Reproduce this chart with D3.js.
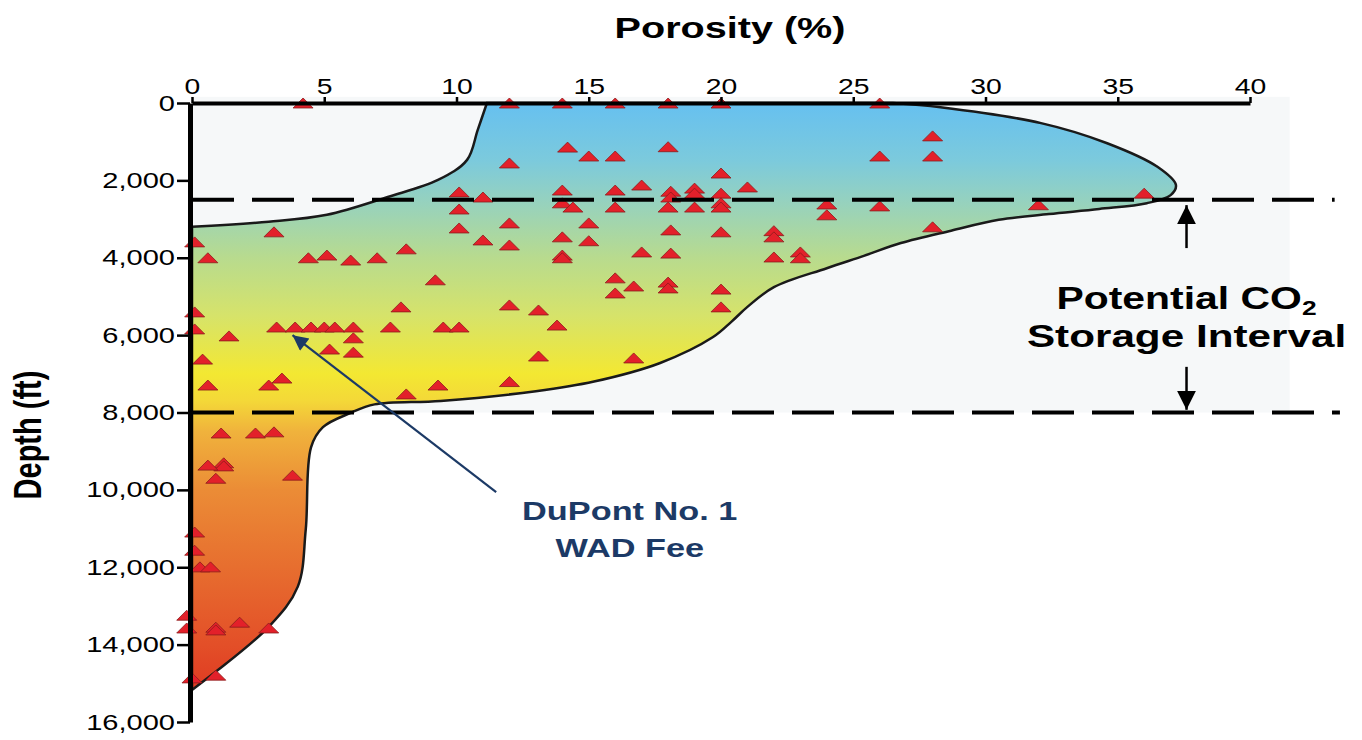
<!DOCTYPE html>
<html>
<head>
<meta charset="utf-8">
<script src="https://cdn.jsdelivr.net/npm/d3@7"></script>
<style>
  body { margin: 0; background: #fff; }
  svg { display: block; font-family: "Liberation Sans", Arial, sans-serif; }
</style>
</head>
<body>
<svg width="1362" height="740"></svg>
<script>
// axis ticks
const porosityTicks = [0, 5, 10, 15, 20, 25, 30, 35, 40];
const depthTicks = [0, 2000, 4000, 6000, 8000, 10000, 12000, 14000, 16000];

// storage interval (ft)
const storageInterval = [2500, 8000];

// envelope of measured porosity vs depth, [porosity %, depth ft]
// left part runs up to the surface, right part goes from the surface round the bulge and down
const envelopeLeft = [
  [0, 3200], [2.9, 3070], [5.1, 2890], [7.4, 2430], [9.3, 1990], [10.4, 1470],
  [10.8, 700], [11.15, 0]
];
const envelopeRight = [
  [26.5, 0], [28.3, 110], [32.1, 520], [34.6, 1040], [36.5, 1650], [37.2, 2120],
  [37.0, 2380], [36.1, 2590], [34.3, 2740], [32.4, 2870], [30.5, 3020], [28.7, 3300],
  [26.8, 3620], [25.4, 3950], [24.0, 4270], [22.0, 4760], [21.0, 5270], [20.4, 5650],
  [19.7, 6050], [17.7, 6720], [15.2, 7200], [13.0, 7450], [9.4, 7700], [6.9, 7790],
  [6.0, 8010], [4.95, 8380], [4.5, 8900], [4.3, 11030], [4.0, 12500], [2.9, 13540],
  [0, 15170]
];

// core samples, [porosity %, depth ft]
const samples = [
  [4.2, 0], [12, 0], [14, 0], [16, 0], [18, 0], [20, 0], [26, 0],
  [28, 850], [14.2, 1140], [18, 1130],
  [15, 1370], [16, 1370], [26, 1370], [28, 1370], [12, 1550], [20, 1810],
  [17, 2120], [21, 2170], [19, 2200], [36, 2330],
  [14, 2250], [16, 2250], [18.1, 2280], [10.1, 2300], [19, 2330], [20, 2330],
  [11, 2430], [18.1, 2430],
  [14, 2580], [20, 2580], [24, 2610], [32, 2630], [26, 2660],
  [14.4, 2690], [16, 2690], [18, 2690], [19, 2690], [20, 2690],
  [10.1, 2740], [24, 2890],
  [15, 3100], [12, 3100], [28, 3200], [10.1, 3230], [18.1, 3280], [22, 3300], [3.1, 3330], [20, 3330],
  [14, 3460], [22, 3460], [11, 3540], [15, 3560], [0.1, 3590], [12, 3670],
  [8.1, 3770], [17, 3850], [23, 3850], [18.1, 3880], [5.1, 3930], [14, 3930], [22, 3980],
  [0.6, 4000], [4.4, 4000], [7, 4000], [14, 4000], [23, 4000], [6, 4060],
  [16, 4520], [9.2, 4570], [18, 4630], [16.7, 4730], [18, 4780], [20, 4810], [16, 4910],
  [12, 5220], [7.9, 5270], [20, 5270], [13.1, 5350], [0.1, 5400],
  [13.8, 5740],
  [3.2, 5790], [3.9, 5790], [4.5, 5790], [5, 5790], [5.4, 5790], [6.1, 5790], [7.5, 5790], [9.5, 5790], [10.1, 5790],
  [0.1, 5840], [1.4, 6020], [6.1, 6070], [5.2, 6360], [6.1, 6440], [13.1, 6540], [16.7, 6590], [0.4, 6620],
  [3.4, 7110], [12, 7200], [0.6, 7290], [2.9, 7290], [9.3, 7290], [8.1, 7520],
  [1.1, 8530], [2.4, 8530], [3.1, 8500],
  [1.2, 9300], [1.2, 9380], [0.6, 9360], [0.9, 9700], [3.8, 9620],
  [0.1, 11090], [0.1, 11560], [0.3, 11990], [0.7, 11990],
  [-0.2, 13240], [-0.2, 13570], [0.9, 13550], [0.9, 13620], [1.8, 13420], [2.9, 13570],
  [0, 14860], [0.9, 14790]
];

// DuPont well callout: arrow tail / tip and label lines
const wellLabel = ["DuPont No. 1", "WAD Fee"];
const wellArrow = [[11.5, 10060], [3.8, 6000]];

var svg = d3.select("svg");
var HS = 1.32; // the original figure is stretched sideways, text too

var x = d3.scaleLinear().domain([0, 40]).range([192, 1250]);
var y = d3.scaleLinear().domain([0, 16000]).range([103, 722]);

var defs = svg.append("defs");
var grad = defs.append("linearGradient")
  .attr("id", "depthGrad")
  .attr("gradientUnits", "userSpaceOnUse")
  .attr("x1", 0).attr("x2", 0)
  .attr("y1", y(0)).attr("y2", y(15200));
var stops = [
  [0, "#66c0f0"], [1500, "#7ccadc"], [2600, "#97d2bd"], [4000, "#b8db8e"],
  [5500, "#d6e36a"], [7000, "#f3e832"], [7700, "#f4d838"], [8500, "#f0b23c"],
  [10000, "#eb8c36"], [12000, "#e76e2f"], [14000, "#e34f28"], [15200, "#df3a22"]
];
grad.selectAll("stop").data(stops).enter().append("stop")
  .attr("offset", d => d[0] / 15200)
  .attr("stop-color", d => d[1]);

// light panel behind the upper part
svg.append("rect")
  .attr("x", x(0)).attr("y", y(-160))
  .attr("width", x(41.5) - x(0)).attr("height", y(storageInterval[1]) - y(-160))
  .attr("fill", "#f6f8f9");

// envelope
var line = d3.line()
  .x(d => x(d[0]))
  .y(d => y(d[1]))
  .curve(d3.curveCatmullRom.alpha(0.5));

svg.append("path")
  .attr("d", line(envelopeLeft) + line(envelopeRight).replace(/^M/, "L") + "Z")
  .attr("fill", "url(#depthGrad)")
  .attr("stroke", "#1a1a1a")
  .attr("stroke-width", 2.5);

// samples
svg.append("g").selectAll("path")
  .data(samples)
  .enter().append("path")
  .attr("transform", d => `translate(${x(d[0])},${y(d[1])})`)
  .attr("d", "M-10,5L0,-5L10,5Z")
  .attr("fill", "#e3202a")
  .attr("stroke", "#8a1c1c")
  .attr("stroke-width", 0.8);

// dashed storage interval limits
svg.append("g").selectAll("line")
  .data(storageInterval)
  .enter().append("line")
  .attr("x1", x(0)).attr("x2", (d, i) => x(i ? 43.4 : 43.2))
  .attr("y1", d => y(d)).attr("y2", d => y(d))
  .attr("stroke", "#000")
  .attr("stroke-width", 4)
  .attr("stroke-dasharray", "42 18");

// axes
var xAxis = svg.append("g")
  .attr("transform", `translate(0,${y(0)})`)
  .call(d3.axisTop(x).tickValues(porosityTicks).tickSize(6).tickSizeOuter(0).tickPadding(3));
xAxis.select(".domain").attr("stroke-width", 4);
xAxis.selectAll(".tick line").attr("stroke-width", 2.5);
xAxis.selectAll(".tick text")
  .attr("transform", `scale(${HS},1)`)
  .attr("x", 0)
  .style("font-size", "21.5px")
  .attr("fill", "#000");

var yAxis = svg.append("g")
  .attr("transform", `translate(${x(0) - 2},0)`)
  .call(d3.axisLeft(y).tickValues(depthTicks).tickFormat(d3.format(",")).tickSize(13).tickSizeOuter(0).tickPadding(3));
yAxis.select(".domain").attr("stroke-width", 5);
yAxis.selectAll(".tick line").attr("stroke-width", 2.5);
yAxis.selectAll(".tick text")
  .attr("x", -15 / HS)
  .attr("transform", `scale(${HS},1)`)
  .style("font-size", "22px")
  .attr("fill", "#000");
svg.selectAll(".domain").attr("stroke", "#000");

// axis titles
svg.append("text")
  .attr("transform", `translate(730,38) scale(${HS},1)`)
  .attr("text-anchor", "middle")
  .attr("font-weight", "bold")
  .attr("font-size", 30)
  .text("Porosity (%)");

svg.append("text")
  .attr("transform", `translate(41,435) scale(${HS},1) rotate(-90)`)
  .attr("text-anchor", "middle")
  .attr("font-weight", "bold")
  .attr("font-size", 29)
  .text("Depth (ft)");

// storage interval label + arrows
var sx = x(37.6);
var co2 = svg.append("text")
  .attr("transform", `translate(${sx},309) scale(${HS},1)`)
  .attr("text-anchor", "middle")
  .attr("font-weight", "bold")
  .attr("font-size", 31);
co2.append("tspan").text("Potential CO");
co2.append("tspan").attr("font-size", 20).attr("dy", 6).text("2");
svg.append("text")
  .attr("transform", `translate(${sx},347) scale(${HS},1)`)
  .attr("text-anchor", "middle")
  .attr("font-weight", "bold")
  .attr("font-size", 32)
  .text("Storage Interval");

defs.append("marker")
  .attr("id", "blackHead")
  .attr("viewBox", "0 0 10 10")
  .attr("refX", 10).attr("refY", 5)
  .attr("markerWidth", 7.5).attr("markerHeight", 7.5)
  .attr("markerUnits", "strokeWidth")
  .attr("orient", "auto")
  .append("path").attr("d", "M0,0L10,5L0,10Z").attr("fill", "#000");

svg.append("line")
  .attr("x1", sx).attr("x2", sx)
  .attr("y1", y(3750)).attr("y2", y(2640))
  .attr("stroke", "#000").attr("stroke-width", 2.5)
  .attr("marker-end", "url(#blackHead)");
svg.append("line")
  .attr("x1", sx).attr("x2", sx)
  .attr("y1", y(6820)).attr("y2", y(7930))
  .attr("stroke", "#000").attr("stroke-width", 2.5)
  .attr("marker-end", "url(#blackHead)");

// well callout
var blue = "#1c3a66";
defs.append("marker")
  .attr("id", "blueHead")
  .attr("viewBox", "0 0 10 10")
  .attr("refX", 10).attr("refY", 5)
  .attr("markerWidth", 8).attr("markerHeight", 7)
  .attr("markerUnits", "strokeWidth")
  .attr("orient", "auto")
  .append("path").attr("d", "M0,0L10,5L0,10Z").attr("fill", blue);

svg.append("line")
  .attr("x1", x(wellArrow[0][0])).attr("y1", y(wellArrow[0][1]))
  .attr("x2", x(wellArrow[1][0])).attr("y2", y(wellArrow[1][1]))
  .attr("stroke", blue).attr("stroke-width", 2.2)
  .attr("marker-end", "url(#blueHead)");

svg.append("g").selectAll("text")
  .data(wellLabel)
  .enter().append("text")
  .attr("transform", (d, i) => `translate(${x(16.55)},${520 + i * 37}) scale(${HS},1)`)
  .attr("text-anchor", "middle")
  .attr("font-weight", "bold")
  .attr("font-size", 26)
  .attr("fill", blue)
  .text(d => d);
</script>
</body>
</html>
